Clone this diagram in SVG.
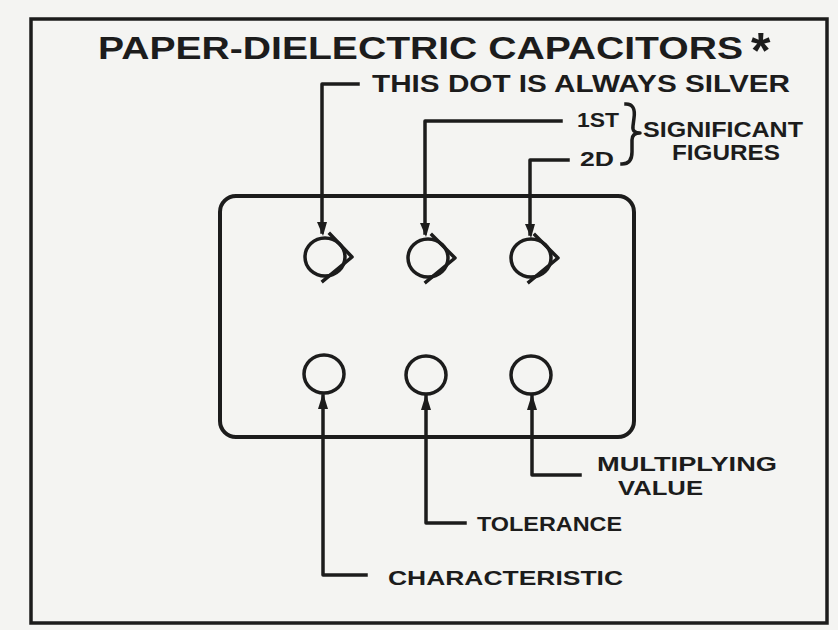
<svg xmlns="http://www.w3.org/2000/svg" width="838" height="630" viewBox="0 0 838 630">
<style>
.ln{fill:none;stroke:#1c1c1c;stroke-width:3.5;stroke-linejoin:round;stroke-linecap:square}
.dot{fill:none;stroke:#1c1c1c;stroke-width:3.5}
.hd{fill:#1c1c1c;stroke:none}
.t{font-family:"Liberation Sans",Arial,sans-serif;font-weight:bold;fill:#1c1c1c}
</style>
<rect x="0" y="0" width="838" height="630" fill="#f4f4f2"/>
<rect x="31" y="19" width="796" height="604" fill="none" stroke="#1c1c1c" stroke-width="3.5"/>
<text class="t" x="98" y="59" font-size="32" textLength="645" lengthAdjust="spacingAndGlyphs">PAPER-DIELECTRIC CAPACITORS</text>
<text class="t" x="751" y="68" font-size="50">*</text>
<g id="case"><rect x="220" y="196" width="414" height="241" rx="16" fill="none" stroke="#1c1c1c" stroke-width="4"/></g>
<g id="dot1"><ellipse class="dot" cx="325" cy="257" rx="20" ry="19"/><path class="ln" d="M330 234 L352 257 L323 281"/></g>
<g id="dot2"><ellipse class="dot" cx="428" cy="258" rx="20" ry="19"/><path class="ln" d="M432 235 L455 258 L426 282"/></g>
<g id="dot3"><ellipse class="dot" cx="531" cy="258" rx="20" ry="19"/><path class="ln" d="M535 235 L558 258 L529 282"/></g>
<g id="dot4"><ellipse class="dot" cx="324" cy="374" rx="20" ry="19"/></g>
<g id="dot5"><ellipse class="dot" cx="426" cy="375" rx="20" ry="19"/></g>
<g id="dot6"><ellipse class="dot" cx="531" cy="375" rx="20" ry="19"/></g>
<g id="connectors">
<path class="ln" d="M358 84 H322 V232"/>
<path class="hd" d="M317 222 L327 222 L323 236 Z"/>
<path class="ln" d="M561 121 H425 V233"/>
<path class="hd" d="M420 223 L430 223 L426 237 Z"/>
<path class="ln" d="M568 160 H530 V234"/>
<path class="hd" d="M525 224 L535 224 L531 238 Z"/>
<path class="ln" d="M323 396 V575 H366"/>
<path class="hd" d="M323 393 L328 409 L318 409 Z"/>
<path class="ln" d="M426 396 V523 H465"/>
<path class="hd" d="M426 394 L431 410 L421 410 Z"/>
<path class="ln" d="M532 396 V475 H580"/>
<path class="hd" d="M532 394 L537 410 L527 410 Z"/>
<path class="ln" d="M626 104 Q636 104 634 118 L633 126 Q632 133 640 133 Q632 133 632 140 L632 152 Q632 164 622 164" stroke-linecap="round"/>
</g>
<g id="labels">
<text class="t" x="372" y="92" font-size="23" textLength="418" lengthAdjust="spacingAndGlyphs">THIS DOT IS ALWAYS SILVER</text>
<text class="t" x="577" y="127" font-size="20" textLength="42" lengthAdjust="spacingAndGlyphs">1ST</text>
<text class="t" x="580" y="166" font-size="20" textLength="34" lengthAdjust="spacingAndGlyphs">2D</text>
<text class="t" x="643" y="137" font-size="22" textLength="160" lengthAdjust="spacingAndGlyphs">SIGNIFICANT</text>
<text class="t" x="672" y="160" font-size="22" textLength="108" lengthAdjust="spacingAndGlyphs">FIGURES</text>
<text class="t" x="597" y="471" font-size="21" textLength="180" lengthAdjust="spacingAndGlyphs">MULTIPLYING</text>
<text class="t" x="618" y="495" font-size="21" textLength="85" lengthAdjust="spacingAndGlyphs">VALUE</text>
<text class="t" x="477" y="531" font-size="21" textLength="145" lengthAdjust="spacingAndGlyphs">TOLERANCE</text>
<text class="t" x="388" y="585" font-size="21" textLength="235" lengthAdjust="spacingAndGlyphs">CHARACTERISTIC</text>
</g>
</svg>
